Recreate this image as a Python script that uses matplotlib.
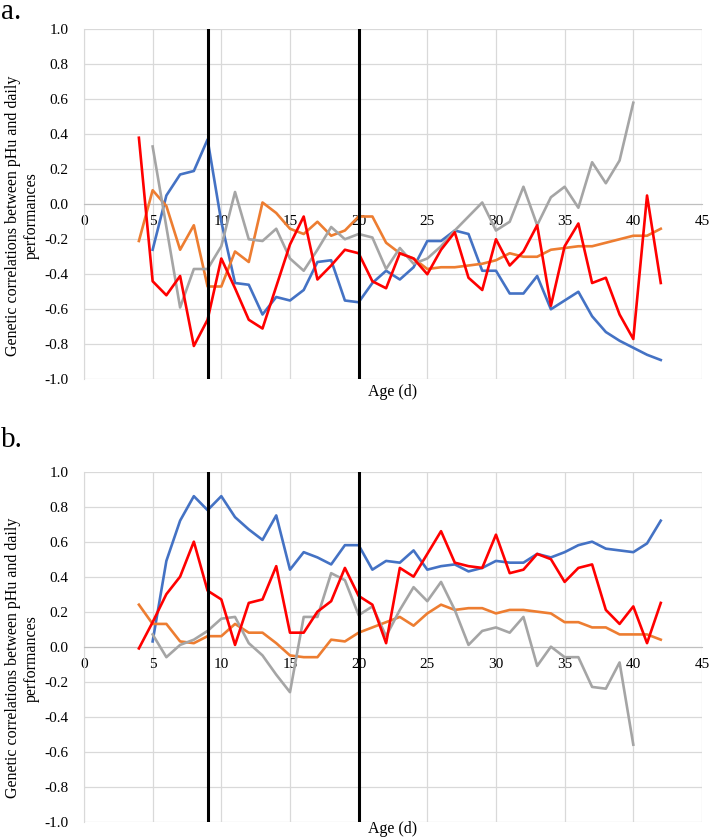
import numpy as np
import matplotlib
matplotlib.use('Agg')
import matplotlib.pyplot as plt

plt.rcParams['font.family'] = ['Liberation Serif', 'DejaVu Serif']

# ages (days)
age_4_42 = list(range(4, 43))
age_5_42 = list(range(5, 43))
age_5_40 = list(range(5, 41))

# panel a
a_blue = [-0.26, 0.05, 0.17, 0.19, 0.37, -0.10, -0.45, -0.46, -0.63, -0.53, -0.55, -0.49, -0.33, -0.32,
          -0.55, -0.56, -0.45, -0.38, -0.43, -0.36, -0.21, -0.21, -0.15, -0.17, -0.38, -0.38, -0.51, -0.51,
          -0.41, -0.60, -0.55, -0.50, -0.64, -0.73, -0.78, -0.82, -0.86, -0.89]
a_orange = [-0.21, 0.08, -0.01, -0.26, -0.12, -0.47, -0.47, -0.27, -0.33, 0.01, -0.05, -0.14, -0.17, -0.10,
            -0.18, -0.15, -0.07, -0.07, -0.22, -0.28, -0.31, -0.37, -0.36, -0.36, -0.35, -0.34, -0.32, -0.28,
            -0.30, -0.30, -0.26, -0.25, -0.24, -0.24, -0.22, -0.20, -0.18, -0.18, -0.14]
a_gray = [0.33, -0.13, -0.59, -0.37, -0.37, -0.24, 0.07, -0.20, -0.21, -0.14, -0.31, -0.38, -0.26, -0.13,
          -0.20, -0.17, -0.19, -0.37, -0.25, -0.34, -0.31, -0.24, -0.15, -0.07, 0.01, -0.15, -0.10, 0.10,
          -0.12, 0.04, 0.10, -0.02, 0.24, 0.12, 0.25, 0.58]
a_red = [0.38, -0.44, -0.52, -0.41, -0.81, -0.66, -0.31, -0.48, -0.66, -0.71, -0.47, -0.23, -0.07, -0.43,
         -0.35, -0.26, -0.28, -0.44, -0.48, -0.28, -0.31, -0.40, -0.26, -0.16, -0.42, -0.49, -0.20, -0.35,
         -0.27, -0.12, -0.58, -0.24, -0.11, -0.45, -0.42, -0.63, -0.77, 0.05, -0.45]

# panel b
b_blue = [0.03, 0.49, 0.72, 0.86, 0.78, 0.86, 0.74, 0.67, 0.61, 0.75, 0.44, 0.54, 0.51, 0.47, 0.58, 0.58,
          0.44, 0.49, 0.48, 0.55, 0.44, 0.46, 0.47, 0.43, 0.45, 0.49, 0.48, 0.48, 0.53, 0.51, 0.54, 0.58,
          0.60, 0.56, 0.55, 0.54, 0.59, 0.72]
b_orange = [0.24, 0.13, 0.13, 0.03, 0.02, 0.06, 0.06, 0.13, 0.08, 0.08, 0.02, -0.05, -0.06, -0.06, 0.04,
            0.03, 0.08, 0.11, 0.14, 0.17, 0.12, 0.19, 0.24, 0.21, 0.22, 0.22, 0.19, 0.21, 0.21, 0.20, 0.19,
            0.14, 0.14, 0.11, 0.11, 0.07, 0.07, 0.07, 0.04]
b_gray = [0.07, -0.06, 0.01, 0.04, 0.09, 0.16, 0.17, 0.02, -0.05, -0.16, -0.26, 0.17, 0.17, 0.42, 0.38,
          0.18, 0.23, 0.06, 0.21, 0.34, 0.26, 0.37, 0.21, 0.01, 0.09, 0.11, 0.08, 0.17, -0.11, 0.00, -0.06,
          -0.06, -0.23, -0.24, -0.09, -0.56]
b_red = [-0.01, 0.14, 0.30, 0.40, 0.60, 0.32, 0.27, 0.01, 0.25, 0.27, 0.46, 0.08, 0.08, 0.20, 0.26, 0.45,
         0.29, 0.24, 0.02, 0.45, 0.40, 0.53, 0.66, 0.48, 0.46, 0.45, 0.64, 0.42, 0.44, 0.53, 0.50, 0.37,
         0.45, 0.47, 0.21, 0.13, 0.23, 0.02, 0.25]

marker_ages = [9, 20]
yticks = [-1.0, -0.8, -0.6, -0.4, -0.2, 0.0, 0.2, 0.4, 0.6, 0.8, 1.0]
ytick_labels = ['-1.0', '-0.8', '-0.6', '-0.4', '-0.2', '0.0', '0.2', '0.4', '0.6', '0.8', '1.0']
xticks = list(range(0, 46, 5))
ylab = 'Genetic correlations between pHu and daily\nperformances'

fig = plt.figure(figsize=(7.11, 8.40), dpi=100)
ax_a = fig.add_axes([0.1181, 0.5485, 0.8692, 0.4167])
ax_b = fig.add_axes([0.1181, 0.0218, 0.8692, 0.4167])

panels = [(ax_a, a_blue, a_orange, a_gray, a_red, -0.035),
          (ax_b, b_blue, b_orange, b_gray, b_red, -0.022)]

for ax, blue, orange, gray, red, xlab_y in panels:
    ax.plot(age_5_42, blue, color='#4472C4', lw=1.9, zorder=3)
    ax.plot(age_4_42, orange, color='#ED7D31', lw=1.9, zorder=3)
    ax.plot(age_5_40, gray, color='#A5A5A5', lw=1.9, zorder=3)
    ax.plot(age_4_42, red, color='#FF0000', lw=1.9, zorder=4)
    for m in marker_ages:
        ax.axvline(m, color='black', lw=2.2, zorder=5)

    ax.set_xlim(0, 45)
    ax.set_ylim(-1, 1)
    ax.set_xticks(xticks)
    ax.set_yticks(yticks)
    ax.set_yticklabels(ytick_labels)
    ax.grid(True, color='#D9D9D9', lw=0.9, zorder=0)
    ax.set_axisbelow(True)

    for s in ['top', 'right']:
        ax.spines[s].set_visible(False)
    ax.spines['left'].set_color('#D9D9D9')
    ax.spines['bottom'].set_position(('data', 0))
    ax.spines['bottom'].set_color('#BFBFBF')
    ax.tick_params(axis='both', length=0, labelsize=11, colors='black')
    ax.tick_params(axis='y', pad=11)
    ax.tick_params(axis='x', pad=8)

    ax.text(-0.1, 0.467, ylab, rotation=90, ha='center', va='center', multialignment='center',
            fontsize=11.5, transform=ax.transAxes)
    ax.text(0.5, xlab_y, 'Age (d)', ha='center', va='center', fontsize=11.5, transform=ax.transAxes)

fig.text(0.002, 0.9774, 'a.', fontsize=21, ha='left', va='baseline')
fig.text(0.002, 0.468, 'b.', fontsize=21, ha='left', va='baseline')

fig.savefig('out.png', dpi=100)
